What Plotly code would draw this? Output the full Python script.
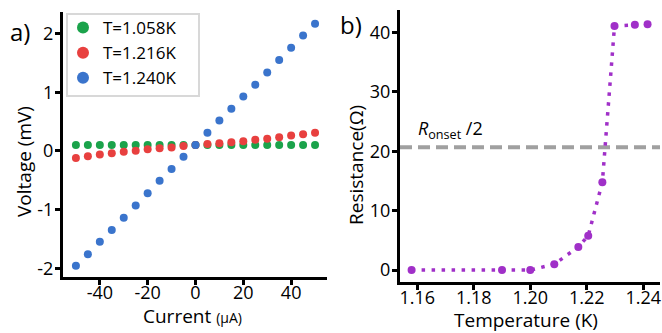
import plotly.graph_objects as go

current = [-50, -45, -40, -35, -30, -25, -20, -15, -10, -5, 0, 5, 10, 15, 20, 25, 30, 35, 40, 45, 50]
v_1058 = [0.10, 0.10, 0.10, 0.10, 0.10, 0.10, 0.10, 0.10, 0.10, 0.10, 0.10, 0.10, 0.10, 0.10, 0.10, 0.10, 0.10, 0.10, 0.10, 0.10, 0.10]
v_1216 = [-0.12, -0.09, -0.06, -0.04, -0.015, 0.005, 0.03, 0.045, 0.06, 0.085, 0.10, 0.12, 0.13, 0.15, 0.165, 0.19, 0.21, 0.235, 0.265, 0.285, 0.31]
v_1240 = [-1.96, -1.76, -1.55, -1.35, -1.14, -0.93, -0.72, -0.51, -0.31, -0.10, 0.10, 0.31, 0.52, 0.72, 0.93, 1.13, 1.34, 1.55, 1.76, 1.97, 2.17]

temperature = [1.158, 1.190, 1.200, 1.2085, 1.217, 1.2205, 1.2255, 1.2298, 1.237, 1.2415]
resistance = [0.0, 0.0, 0.0, 1.0, 3.9, 5.8, 14.8, 41.1, 41.3, 41.4]
r_half = 20.7

FONT = "Open Sans"
W, H = 662, 333
fig = go.Figure()

for name, vals, col in [("T=1.058K", v_1058, "#1ba34b"), ("T=1.216K", v_1216, "#e8403f"), ("T=1.240K", v_1240, "#3a74cc")]:
    fig.add_trace(go.Scatter(x=current, y=vals, mode="markers", name=name,
                             marker=dict(color=col, size=8), xaxis="x", yaxis="y"))

fig.add_trace(go.Scatter(x=[1.1539, 1.2459], y=[r_half, r_half], mode="lines", showlegend=False,
                         line=dict(color="#a0a0a0", width=4, dash="12px,6px"), xaxis="x2", yaxis="y2"))
fig.add_trace(go.Scatter(x=temperature, y=resistance, mode="lines+markers", showlegend=False,
                         line=dict(color="#a030c8", width=3.5, dash="3.5px,6.5px"),
                         marker=dict(color="#a030c8", size=8), xaxis="x2", yaxis="y2"))

axis_common = dict(showline=True, linecolor="black", linewidth=3, ticks="outside", ticklen=5,
                   tickwidth=2.5, tickcolor="black", showgrid=False, zeroline=False, automargin=False,
                   tickfont=dict(family=FONT, size=18, color="black"))
xstand = dict(ticklabelstandoff=-8)
ystand = dict(ticklabelstandoff=-2)

fig.update_layout(
    width=W, height=H, margin=dict(l=0, r=0, t=0, b=0),
    paper_bgcolor="white", plot_bgcolor="white",
    font=dict(family=FONT, color="black"),
    xaxis=dict(domain=[63/W, 327/W], range=[-55.4, 55], tickvals=[-40, -20, 0, 20, 40],
               ticktext=["-40", "-20", "0", "20", "40"], anchor="y", **xstand, **axis_common),
    yaxis=dict(domain=[1 - 277/H, 1 - 12/H], range=[-2.15, 2.37], tickvals=[-2, -1, 0, 1, 2],
               ticktext=["-2", "-1", "0", "1", "2"], anchor="x", **ystand, **axis_common),
    xaxis2=dict(domain=[400/W, 660/W], range=[1.1539, 1.2459], tickvals=[1.16, 1.18, 1.20, 1.22, 1.24],
                ticktext=["1.16", "1.18", "1.20", "1.22", "1.24"], anchor="y2", **xstand, **axis_common),
    yaxis2=dict(domain=[1 - 282/H, 1 - 10/H], range=[-2.0, 43.8], tickvals=[0, 10, 20, 30, 40],
                anchor="x2", **ystand, **axis_common),
    legend=dict(x=63/W, y=1 - 10/H, xanchor="left", yanchor="top", bgcolor="rgba(0,0,0,0)",
                borderwidth=0, font=dict(family=FONT, size=17, color="black"),
                itemsizing="constant", tracegroupgap=0),
    showlegend=True,
)

# legend frame
fig.add_shape(type="rect", xref="paper", yref="paper", x0=67/W, x1=199/W, y0=1 - 96/H, y1=1 - 14/H,
              line=dict(color="#d8d8d8", width=2), fillcolor="white", layer="above")

def label(text, x, y, size, angle=0):
    fig.add_annotation(text=text, x=x/W, y=1 - y/H, xref="paper", yref="paper", xanchor="center",
                       yanchor="middle", showarrow=False, textangle=angle,
                       font=dict(family=FONT, size=size, color="black"))

label("a)", 20, 31, 24)
label("b)", 351, 24, 24)
label("Current <span style='font-size:14px'>(μA)</span>", 192, 316, 19)
label("Temperature (K)", 526, 320, 19)
label("Voltage (mV)", 24, 162, 19, -90)
label("Resistance(Ω)", 356, 165, 19, -90)

fig.add_annotation(text="<i>R</i><sub>onset</sub> /2", x=1.1595, y=r_half, xref="x2", yref="y2",
                   xanchor="left", yanchor="bottom", yshift=2, showarrow=False,
                   font=dict(family=FONT, size=18, color="black"))

fig.write_html("out.html", config={"displayModeBar": False},
               post_script="document.body.style.margin='0';document.body.style.overflow='hidden';")
